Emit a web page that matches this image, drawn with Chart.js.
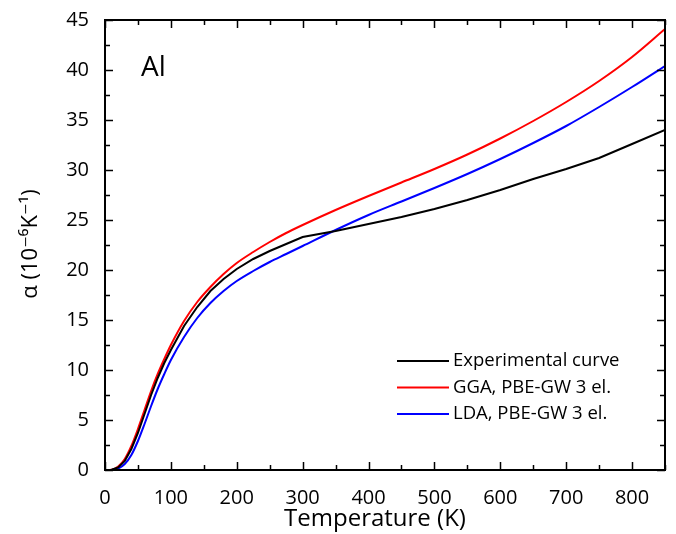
<!DOCTYPE html>
<html>
<head>
<meta charset="utf-8">
<script src="https://cdn.jsdelivr.net/npm/chart.js@4/dist/chart.umd.min.js"></script>
<style>
  html, body { margin: 0; padding: 0; background: #fff; }
  #wrap { width: 676px; height: 534px; }
</style>
</head>
<body>
<div id="wrap"><canvas id="alphaChart" width="676" height="534"></canvas></div>
<script>
// temperatures (K) and thermal expansion values (10^-6 K^-1)
const temps = [0, 10, 20, 30, 40, 50, 60, 70, 80, 90, 100, 120, 140, 160, 180, 200, 225, 250, 275, 300,
  350, 400, 450, 500, 550, 600, 650, 700, 750, 800, 850];
const experimental = [0, 0.02, 0.25, 0.9, 2.1, 3.7, 5.6, 7.5, 9.2, 10.7, 12.0, 14.4, 16.3, 17.9, 19.1, 20.1, 21.1, 21.9, 22.6, 23.3,
  23.9, 24.6, 25.3, 26.1, 27.0, 28.0, 29.1, 30.1, 31.2, 32.6, 34.0];
const gga = [0, 0.03, 0.35, 1.1, 2.4, 4.1, 6.0, 7.9, 9.6, 11.1, 12.5, 14.9, 16.8, 18.3, 19.6, 20.7, 21.8, 22.8, 23.7, 24.5,
  26.0, 27.4, 28.75, 30.1, 31.55, 33.15, 34.9, 36.8, 38.9, 41.3, 44.1];
const lda = [0, 0.01, 0.15, 0.6, 1.5, 2.9, 4.6, 6.4, 8.1, 9.6, 11.0, 13.3, 15.2, 16.7, 17.9, 18.9, 19.9, 20.8, 21.6, 22.4,
  24.0, 25.5, 26.85, 28.2, 29.6, 31.1, 32.7, 34.4, 36.3, 38.3, 40.4];

const xTicks = [0, 100, 200, 300, 400, 500, 600, 700, 800];
const yTicks = [0, 5, 10, 15, 20, 25, 30, 35, 40, 45];

const seriesLabels = ['Experimental curve', 'GGA, PBE-GW 3 el.', 'LDA, PBE-GW 3 el.'];
const seriesColors = ['#000000', '#ff0000', '#0000ff'];

function toPoints(ys) {
  return temps.map((t, i) => ({ x: t, y: ys[i] }));
}

const FONT = "'Open Sans', 'DejaVu Sans', sans-serif";

// frame, inward ticks, axis titles, legend and the "Al" label
const decorations = {
  id: 'decorations',
  afterDatasetsDraw(chart) {
    const { ctx, chartArea: a, scales } = chart;
    const xs = scales.x, ys = scales.y;
    ctx.save();
    ctx.strokeStyle = '#000';
    ctx.lineWidth = 1.5;
    ctx.beginPath();
    for (let v = 0; v <= 850; v += 50) {
      const px = Math.round(xs.getPixelForValue(v)) + 0.5;
      const len = v % 100 === 0 ? 8 : 5;
      ctx.moveTo(px, a.bottom); ctx.lineTo(px, a.bottom - len);
      ctx.moveTo(px, a.top); ctx.lineTo(px, a.top + len);
    }
    for (let v = 0; v <= 45; v += 2.5) {
      const py = Math.round(ys.getPixelForValue(v)) + 0.5;
      const len = v % 5 === 0 ? 8 : 5;
      ctx.moveTo(a.left, py); ctx.lineTo(a.left + len, py);
      ctx.moveTo(a.right, py); ctx.lineTo(a.right - len, py);
    }
    ctx.stroke();
    ctx.lineWidth = 2;
    ctx.strokeRect(a.left, a.top, a.right - a.left, a.bottom - a.top);

    // axis titles
    ctx.fillStyle = '#000';
    ctx.textAlign = 'center';
    ctx.textBaseline = 'middle';
    ctx.font = '24px ' + FONT;
    ctx.fillText('Temperature (K)', 375, 519);
    ctx.save();
    ctx.translate(31, 244);
    ctx.rotate(-Math.PI / 2);
    ctx.font = '22px ' + FONT;
    ctx.fillText('α (10⁻⁶K⁻¹)', 0, 0);
    ctx.restore();

    // legend
    ctx.font = '18.5px ' + FONT;
    ctx.textBaseline = 'middle';
    ctx.textAlign = 'left';
    seriesLabels.forEach((lab, i) => {
      const y = 361 + i * 26.5;
      ctx.strokeStyle = seriesColors[i];
      ctx.lineWidth = 2;
      ctx.beginPath();
      ctx.moveTo(397, y); ctx.lineTo(449, y);
      ctx.stroke();
      ctx.fillStyle = '#000';
      ctx.fillText(lab, 453, y);
    });

    ctx.font = '28px ' + FONT;
    ctx.fillText('Al', 141, 68);
    ctx.restore();
  }
};

const ctx = document.getElementById('alphaChart').getContext('2d');
const alphaChart = new Chart(ctx, {
  type: 'line',
  data: {
    datasets: [
      { label: seriesLabels[0], data: toPoints(experimental), borderColor: seriesColors[0], borderWidth: 2, tension: 0 },
      { label: seriesLabels[1], data: toPoints(gga), borderColor: seriesColors[1], borderWidth: 2, cubicInterpolationMode: 'monotone' },
      { label: seriesLabels[2], data: toPoints(lda), borderColor: seriesColors[2], borderWidth: 2, cubicInterpolationMode: 'monotone' }
    ]
  },
  options: {
    responsive: false,
    animation: false,
    events: [],
    elements: { point: { radius: 0 } },
    layout: { padding: { top: 15, right: 11, left: 0, bottom: 0 } },
    plugins: { legend: { display: false }, tooltip: { enabled: false } },
    scales: {
      x: {
        type: 'linear',
        min: 0,
        max: 850,
        afterBuildTicks: s => { s.ticks = xTicks.map(v => ({ value: v })); },
        afterFit: s => { s.height = 64; },
        grid: { display: false },
        border: { display: false },
        ticks: { color: '#000', font: { family: FONT, size: 20 }, padding: 8, maxRotation: 0 }
      },
      y: {
        type: 'linear',
        min: 0,
        max: 45,
        afterBuildTicks: s => { s.ticks = yTicks.map(v => ({ value: v })); },
        afterFit: s => { s.width = 105; },
        grid: { display: false },
        border: { display: false },
        ticks: { color: '#000', font: { family: FONT, size: 20 }, padding: 8 }
      }
    }
  },
  plugins: [decorations]
});
</script>
</body>
</html>
